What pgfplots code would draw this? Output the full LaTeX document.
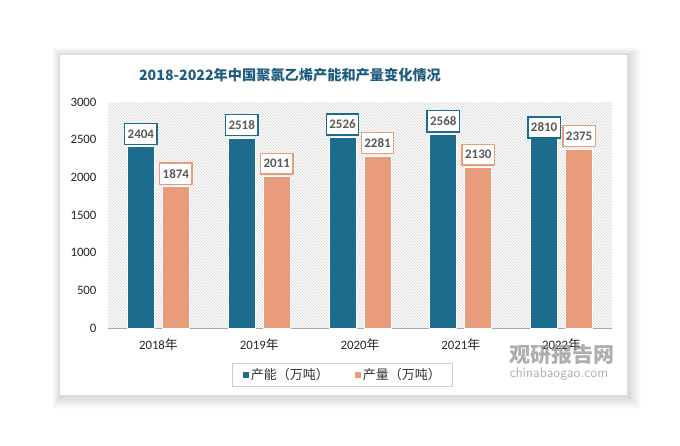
\documentclass[border=0pt]{standalone}
\usepackage{pgfplots}
\pgfplotsset{compat=1.18}
\usepackage{fontspec}
\setmainfont{Carlito}
\newfontfamily\cjk{Noto Sans CJK SC}
\usetikzlibrary{patterns}

\definecolor{capblue}{RGB}{28,108,142}
\definecolor{prodorange}{RGB}{232,156,124}
\definecolor{titleblue}{RGB}{31,93,126}
\definecolor{labelgray}{RGB}{89,89,89}

\begin{document}
\begin{tikzpicture}[x=1pt,y=1pt]
% page and card with soft shadow
\path (0,0) rectangle (680,445);
\foreach \i in {1,...,12} {
  \fill[black,opacity=0.012] (60-0.6*\i,50-\i-2) rectangle (627+\i+2,390+0.6*\i);
}
\fill[white] (60,50) rectangle (627,390);

\node[font=\cjk\bfseries\fontsize{14.2}{16}\selectfont, text=titleblue] at (290,370)
  {2018-2022年中国聚氯乙烯产能和产量变化情况};

\begin{axis}[
  at={(108pt,117pt)}, anchor=south west,
  scale only axis, width=504pt, height=226pt,
  ybar=8pt, bar width=27pt,
  xmin=-0.5, xmax=4.5, ymin=0, ymax=3000,
  xtick={0,...,4},
  xticklabels={2018{\cjk 年},2019{\cjk 年},2020{\cjk 年},2021{\cjk 年},2022{\cjk 年}},
  ytick={0,500,...,3000},
  axis x line*=bottom, axis y line*=left,
  y axis line style={draw=none},
  x axis line style={draw=black!35, line width=0.8pt, -},
  major tick length=0pt,
  axis background/.style={pattern=north west lines, pattern color=black!18},
  ticklabel style={font=\fontsize{12.8}{14}\selectfont, text=black!85},
  yticklabel style={xshift=-8pt},
  xticklabel style={yshift=-7pt},
  /pgf/number format/1000 sep={},
  /pgf/number format/assume math mode=true,
  nodes near coords,
  every node near coord/.append style={font=\bfseries\fontsize{13}{15}\selectfont,
    text=labelgray, fill=white, line width=1.3pt, inner xsep=3pt, inner ysep=6pt,
    yshift=2pt},
  legend style={at={(0.466,-0.208)}, anchor=center, legend columns=2,
    draw=black!20, line width=0.8pt, font=\cjk\fontsize{13}{15}\selectfont,
    text=black!80, inner xsep=10pt, inner ysep=3pt,
    /tikz/every even column/.append style={column sep=24pt}},
  legend image code/.code={\fill[#1,draw=none] (0pt,-3pt) rectangle (6pt,3pt);},
]
\addplot[fill=capblue, draw=white, line width=1pt,
  every node near coord/.append style={draw=capblue},
  coordinate style/.condition={y>2700}{anchor=north, yshift=-2pt}]
  coordinates {(0,2404) (1,2518) (2,2526) (3,2568) (4,2810)};
\addplot[fill=prodorange, draw=white, line width=1pt,
  every node near coord/.append style={draw=prodorange}]
  coordinates {(0,1874) (1,2011) (2,2281) (3,2130) (4,2375)};
\legend{产能（万吨）,产量（万吨）}
\end{axis}

% watermark
\node[font=\cjk\bfseries\fontsize{21}{23}\selectfont, text=black!45, opacity=0.7] at (562,90) {观研报告网};
\node[font=\sffamily\fontsize{14}{16}\selectfont, text=black!45, opacity=0.7] at (559,71) {chinabaogao.com};
\end{tikzpicture}
\end{document}
